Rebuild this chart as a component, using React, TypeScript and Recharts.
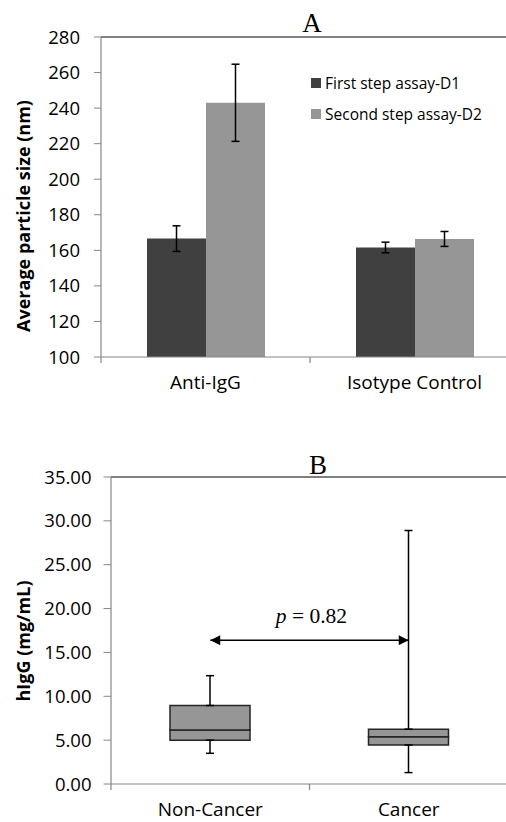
import React from 'react';
import {
    BarChart,
    ComposedChart,
    Bar,
    XAxis,
    YAxis,
    ErrorBar,
    ReferenceLine,
    Legend
} from 'recharts';

// Panel A - particle size by assay step
const assayGroups = ['Anti-IgG', 'Isotype Control'];
const firstStepD1 = [166.6, 161.6];
const firstStepD1Err = [7.2, 3.0];
const secondStepD2 = [243.0, 166.4];
const secondStepD2Err = [21.7, 4.2];
const sizeTicks = [100, 120, 140, 160, 180, 200, 220, 240, 260, 280];

// Panel B - hIgG box plot
const cohorts = ['Non-Cancer', 'Cancer'];
const whiskerMin = [3.5, 1.3];
const quartile1 = [5.0, 4.45];
const medians = [6.15, 5.4];
const quartile3 = [8.95, 6.25];
const whiskerMax = [12.35, 28.9];
const iggTicks = [0, 5, 10, 15, 20, 25, 30, 35];
const comparisonLevel = 16.4;
const pValue = '0.82';

const axisGray = '#868686';
const darkBar = '#404040';
const lightBar = '#969696';
const sansFont = '"Open Sans", sans-serif';
const serifFont = '"Liberation Serif", "Times New Roman", serif';

const sizeData = assayGroups.map((group, i) => ({
    group,
    d1: firstStepD1[i],
    d1Err: firstStepD1Err[i],
    d2: secondStepD2[i],
    d2Err: secondStepD2Err[i]
}));

const boxData = cohorts.map((cohort, i) => ({
    cohort,
    base: quartile1[i],
    lowerBox: medians[i] - quartile1[i],
    upperBox: quartile3[i] - medians[i],
    lowWhisker: [quartile1[i] - whiskerMin[i], 0],
    highWhisker: [0, whiskerMax[i] - quartile3[i]]
}));

const CAT_TICK_GAP = 18; // tickSize + tickMargin on the category axes
const EDGE_TICK = 6;

// category label plus Excel-style tick marks on the category boundaries
const CategoryTick = (props: any) => {
    const { x, y, payload, visibleTicksCount } = props;
    const half = payload.offset || 0;
    const axisY = y - CAT_TICK_GAP;
    const isLast = payload.index === visibleTicksCount - 1;
    return (
        <g>
            <line x1={x - half} y1={axisY} x2={x - half} y2={axisY + EDGE_TICK} stroke={axisGray} strokeWidth={1.2} />
            {isLast && (
                <line x1={x + half} y1={axisY} x2={x + half} y2={axisY + EDGE_TICK} stroke={axisGray} strokeWidth={1.2} />
            )}
            <text
                x={x}
                y={y}
                dy="0.75em"
                textAnchor="middle"
                fontFamily={sansFont}
                fontSize={19}
                fill="#000"
            >
                {payload.value}
            </text>
        </g>
    );
};

const PanelTitle = (text: string, shift: number, lift: number) => (props: any) => {
    const vb = props.viewBox || {};
    return (
        <text
            x={vb.x + vb.width / 2 + shift}
            y={vb.y - lift}
            textAnchor="middle"
            fontFamily={serifFont}
            fontSize={27}
            fill="#000"
        >
            {text}
        </text>
    );
};

const AxisTitle = (text: string, cx: number, cy: number) => () => (
    <text
        x={cx}
        y={cy}
        transform={`rotate(-90, ${cx}, ${cy})`}
        textAnchor="middle"
        dominantBaseline="central"
        fontFamily={sansFont}
        fontWeight="bold"
        fontSize={18}
        fill="#000"
    >
        {text}
    </text>
);

const PLabel = (props: any) => {
    const vb = props.viewBox || {};
    return (
        <text
            x={vb.x + (vb.width || 0) / 2 + 2}
            y={vb.y - 17}
            textAnchor="middle"
            fontFamily={serifFont}
            fontSize={21.5}
            fill="#000"
        >
            <tspan fontStyle="italic">p</tspan>
            {` = ${pValue}`}
        </text>
    );
};

const LegendBox = (props: any) => (
    <div style={{ fontFamily: sansFont, fontSize: 15.5, color: '#000' }}>
        {(props.payload || []).map((entry: any) => (
            <div
                key={entry.value}
                style={{ display: 'flex', alignItems: 'center', height: 20, marginBottom: 11, whiteSpace: 'nowrap' }}
            >
                <span style={{ width: 10, height: 10, background: entry.color, marginRight: 4, display: 'inline-block' }} />
                {entry.value}
            </div>
        ))}
    </div>
);

const tickFont = { fontSize: 18.5, fill: '#000', fontFamily: sansFont };

export default function App() {
    return (
        <div style={{ position: 'absolute', left: 0, top: 0, width: 506, height: 822, overflow: 'hidden', background: '#fff' }}>
            <div style={{ position: 'absolute', left: 0, top: 0 }}>
                <BarChart
                    width={530}
                    height={410}
                    data={sizeData}
                    margin={{ top: 37, right: 11, left: 0, bottom: 13 }}
                    barGap={0}
                    barSize={59}
                >
                    <XAxis
                        dataKey="group"
                        axisLine={{ stroke: axisGray, strokeWidth: 1.2 }}
                        tickLine={false}
                        tick={<CategoryTick />}
                        tickSize={6}
                        tickMargin={12}
                        height={40}
                    />
                    <YAxis
                        width={101}
                        domain={[100, 280]}
                        ticks={sizeTicks}
                        allowDataOverflow
                        axisLine={{ stroke: axisGray, strokeWidth: 1.2 }}
                        tickLine={{ stroke: axisGray }}
                        tickSize={7}
                        tickMargin={14}
                        tick={tickFont}
                        label={{ content: AxisTitle('Average particle size (nm)', 23, 216) }}
                    />
                    <ReferenceLine
                        y={280}
                        stroke="#000"
                        strokeWidth={1.2}
                        label={{ content: PanelTitle('A', 2, 5) }}
                    />
                    <Legend
                        layout="vertical"
                        align="center"
                        verticalAlign="middle"
                        wrapperStyle={{ left: 311, top: 73, width: 200 }}
                        content={LegendBox}
                    />
                    <Bar dataKey="d1" name="First step assay-D1" fill={darkBar} isAnimationActive={false}>
                        <ErrorBar dataKey="d1Err" width={4} stroke="#000" strokeWidth={1.5} />
                    </Bar>
                    <Bar dataKey="d2" name="Second step assay-D2" fill={lightBar} isAnimationActive={false}>
                        <ErrorBar dataKey="d2Err" width={4} stroke="#000" strokeWidth={1.5} />
                    </Bar>
                </BarChart>
            </div>
            <div style={{ position: 'absolute', left: 0, top: 410 }}>
                <ComposedChart
                    width={520}
                    height={412}
                    data={boxData}
                    margin={{ top: 67, right: 12, left: 0, bottom: 10 }}
                    barSize={80}
                >
                    <defs>
                        <marker
                            id="arrowHead"
                            viewBox="0 0 10 10"
                            refX="10"
                            refY="5"
                            markerWidth="11"
                            markerHeight="10"
                            markerUnits="userSpaceOnUse"
                            orient="auto-start-reverse"
                        >
                            <path d="M0,0 L10,5 L0,10 z" fill="#000" />
                        </marker>
                    </defs>
                    <XAxis
                        dataKey="cohort"
                        axisLine={{ stroke: axisGray, strokeWidth: 1.2 }}
                        tickLine={false}
                        tick={<CategoryTick />}
                        tickSize={6}
                        tickMargin={12}
                        height={28}
                    />
                    <YAxis
                        width={111}
                        domain={[0, 35]}
                        ticks={iggTicks}
                        allowDataOverflow
                        tickFormatter={(v: number) => v.toFixed(2)}
                        axisLine={{ stroke: axisGray, strokeWidth: 1.2 }}
                        tickLine={{ stroke: axisGray }}
                        tickSize={7.5}
                        tickMargin={12}
                        tick={tickFont}
                        label={{ content: AxisTitle('hIgG (mg/mL)', 23, 231) }}
                    />
                    <ReferenceLine
                        y={35}
                        stroke="#000"
                        strokeWidth={1.2}
                        label={{ content: PanelTitle('B', 8.5, 3) }}
                    />
                    <Bar dataKey="base" stackId="box" fill="none" isAnimationActive={false}>
                        <ErrorBar dataKey="lowWhisker" width={4} stroke="#000" strokeWidth={1.5} />
                    </Bar>
                    <Bar
                        dataKey="lowerBox"
                        stackId="box"
                        fill={lightBar}
                        stroke="#262626"
                        strokeWidth={1.5}
                        isAnimationActive={false}
                    />
                    <Bar
                        dataKey="upperBox"
                        stackId="box"
                        fill={lightBar}
                        stroke="#262626"
                        strokeWidth={1.5}
                        isAnimationActive={false}
                    >
                        <ErrorBar dataKey="highWhisker" width={4} stroke="#000" strokeWidth={1.5} />
                    </Bar>
                    <ReferenceLine
                        segment={[
                            { x: cohorts[0], y: comparisonLevel },
                            { x: cohorts[1], y: comparisonLevel }
                        ]}
                        stroke="#000"
                        strokeWidth={1.5}
                        markerStart="url(#arrowHead)"
                        markerEnd="url(#arrowHead)"
                        label={{ content: PLabel }}
                    />
                </ComposedChart>
            </div>
        </div>
    );
}
